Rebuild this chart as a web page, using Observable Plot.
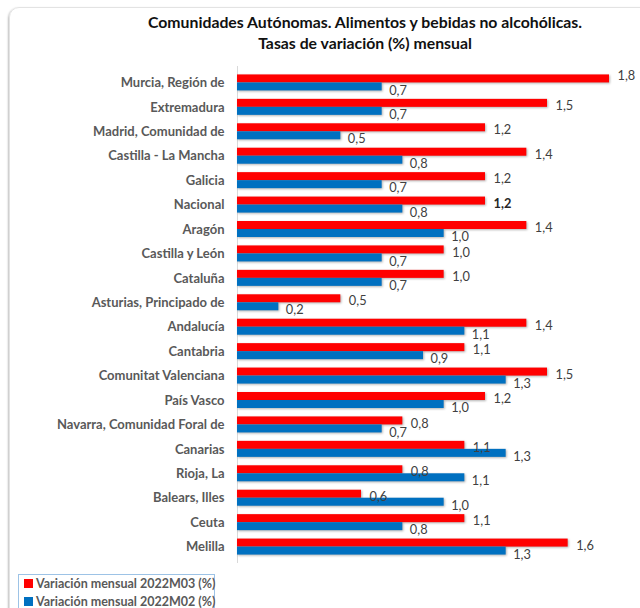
<!DOCTYPE html>
<html><head><meta charset="utf-8">
<script src="https://cdn.jsdelivr.net/npm/d3@7"></script>
<script src="https://cdn.jsdelivr.net/npm/@observablehq/plot@0.6"></script>
<style>
body{margin:0;width:640px;height:608px;overflow:hidden;background:#fff;font-family:Lato,"Open Sans",sans-serif;position:relative}
#frame{position:absolute;left:9px;top:7px;width:700px;height:700px;border:1px solid #e3e3e3;border-radius:10px;box-shadow:-1px 1px 2px rgba(0,0,0,0.25)}
#title{position:absolute;left:0;top:11px;width:730px;text-align:center;font-weight:bold;font-size:15.8px;line-height:21px;color:#111}
#chart{position:absolute;left:0;top:60px}
#legend{position:absolute;left:18px;top:574px;width:195px;height:44px;border:1px solid #9dc3e6;background:#fff;font-weight:bold;font-size:12.5px;color:#595959}
.item{position:absolute;left:5px;white-space:nowrap;line-height:16px}
.sw{display:inline-block;width:9px;height:9px;margin-right:3px;vertical-align:0px}
</style></head>
<body>
<div id="frame"></div>
<div id="title">Comunidades Autónomas. Alimentos y bebidas no alcohólicas.<br>Tasas de variación (%) mensual</div>
<div id="chart"></div>
<div id="legend">
 <div class="item" style="top:1px"><span class="sw" style="background:#ff0000"></span>Variación mensual 2022M03 (%)</div>
 <div class="item" style="top:19px"><span class="sw" style="background:#0070c0"></span>Variación mensual 2022M02 (%)</div>
</div>
<script>
const regions = ["Murcia, Región de","Extremadura","Madrid, Comunidad de","Castilla - La Mancha","Galicia","Nacional","Aragón","Castilla y León","Cataluña","Asturias, Principado de","Andalucía","Cantabria","Comunitat Valenciana","País Vasco","Navarra, Comunidad Foral de","Canarias","Rioja, La","Balears, Illes","Ceuta","Melilla"];
const m03 = [1.8,1.5,1.2,1.4,1.2,1.2,1.4,1.0,1.0,0.5,1.4,1.1,1.5,1.2,0.8,1.1,0.8,0.6,1.1,1.6];
const m02 = [0.7,0.7,0.5,0.8,0.7,0.8,1.0,0.7,0.7,0.2,1.1,0.9,1.3,1.0,0.7,1.3,1.1,1.0,0.8,1.3];
const seriesNames = ["Variación mensual 2022M03 (%)","Variación mensual 2022M02 (%)"];

const d03 = regions.map((r,i)=>({region:r, value:m03[i]}));
const d02 = regions.map((r,i)=>({region:r, value:m02[i]}));
const fmt = v => v.toFixed(1).replace(".", ",");
const half = 8;
const txt = {y: "region", x: "value", text: d=>fmt(d.value), textAnchor: "start", fill: "#404040", fontSize: 12.8};

const plot = Plot.plot({
  width: 640, height: 507,
  marginLeft: 237, marginRight: 31, marginTop: 6, marginBottom: 4,
  style: {fontFamily: "Lato, 'Open Sans', sans-serif", background: "transparent", overflow: "visible"},
  x: {domain: [0, 1.8], axis: null},
  y: {domain: regions, padding: 0.345, round: false, axis: null},
  marks: [
    Plot.ruleX([0], {stroke: "#d9d9d9", strokeWidth: 1}),
    Plot.barX(d03, {y: "region", x: "value", fill: "#ff0000", insetBottom: half}),
    Plot.barX(d02, {y: "region", x: "value", fill: "#0070c0", insetTop: half}),
    Plot.text(d03.filter((d,i)=>i===0), {...txt, dx: 8, dy: -7}),
    Plot.text(d03.filter((d,i)=>i>0 && d.region!=="Nacional"), {...txt, dx: 8, dy: -1.5}),
    Plot.text(d03.filter(d=>d.region==="Nacional"), {...txt, dx: 8, dy: -1.5, fill: "#262626", fontWeight: "bold"}),
    Plot.text(d02, {...txt, dx: 7, dy: 7.5}),
    Plot.text(regions, {y: d=>d, x: () => 0, text: d=>d, dx: -13, textAnchor: "end", fill: "#595959", fontSize: 13, fontWeight: "bold"})
  ]
});
document.getElementById("chart").appendChild(plot);
d3.select(plot).selectAll('g[aria-label="bar"]').style("filter", "drop-shadow(1px 1px 1px rgba(0,0,0,0.3))");
</script>
</body></html>
